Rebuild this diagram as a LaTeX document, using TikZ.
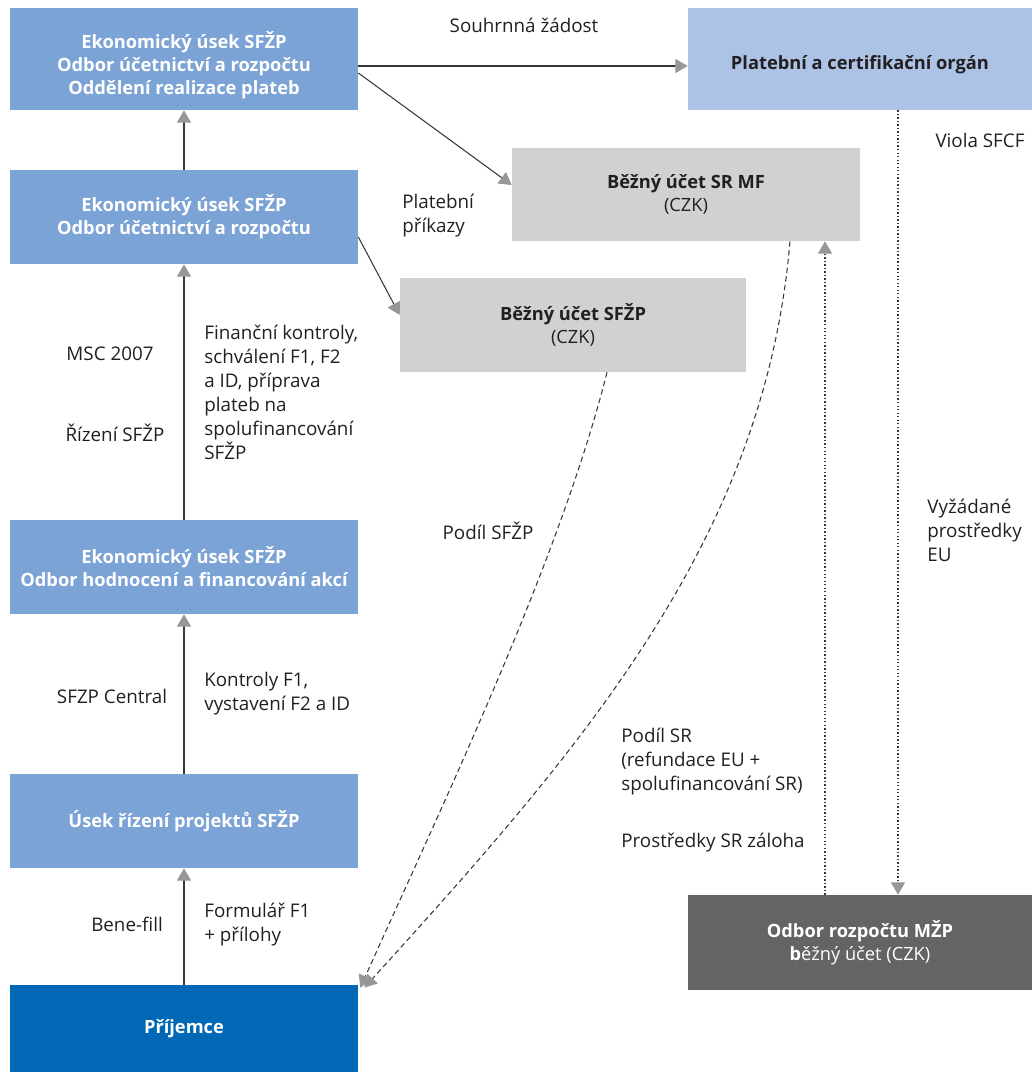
\documentclass[tikz,border=0pt]{standalone}
\usepackage{fontspec}
\setmainfont{Open Sans}
\usepackage{xcolor}
\usetikzlibrary{arrows.meta}
\definecolor{ekoblue}{RGB}{124,163,214}
\definecolor{orgblue}{RGB}{172,195,230}
\definecolor{uctgray}{RGB}{208,209,211}
\definecolor{mzpgray}{RGB}{99,100,102}
\definecolor{prijblue}{RGB}{0,104,180}
\definecolor{tipgray}{RGB}{150,151,153}
\definecolor{linegray}{RGB}{55,55,57}
\definecolor{txtdark}{RGB}{35,31,32}
\tikzset{
	box/.style={
			minimum width=6.96cm, minimum height=1.88cm, inner sep=0pt,
			align=center, font=\fontsize{10.4}{13.4}\selectfont
		},
	eko/.style={box, fill=ekoblue, text=white, font=\bfseries\fontsize{10.4}{13.1}\selectfont},
	ucet/.style={box, fill=uctgray, text=txtdark},
	boxtext/.style={align=center, inner sep=0pt, font=\bfseries\fontsize{10.4}{13.1}\selectfont},
	label/.style={text=txtdark, align=left, inner sep=0pt, font=\fontsize{10.7}{13.66}\selectfont},
	flow/.style={draw=linegray, line width=0.6pt, -{Triangle[length=7pt, width=8pt, fill=tipgray, color=tipgray]}},
	flowdash/.style={flow, dash pattern=on 3pt off 2pt},
	flowdot/.style={flow, dash pattern=on 0.8pt off 1.2pt}
}

\begin{document}
\begin{tikzpicture}[x=0.02cm, y=-0.02cm]
	\useasboundingbox (0,0) rectangle (1032,1073);

	% Draw the left column of boxes
	\node[eko, minimum height=2.04cm] (ekuc) at (184,59) {};
	\node[boxtext, text=white] (ekuctext) at ([yshift=-0.12cm]ekuc.center) {Ekonomický úsek SFŽP\\Odbor účetnictví a rozpočtu\\Oddělení realizace plateb};
	\node[eko] (ekodb) at (184,217) {Ekonomický úsek SFŽP\\Odbor účetnictví a rozpočtu};
	\node[eko] (ekhod) at (184,567) {Ekonomický úsek SFŽP\\Odbor hodnocení a financování akcí};
	\node[eko] (usek) at (184,821) {Úsek řízení projektů SFŽP};
	\node[eko, fill=prijblue, minimum height=1.74cm] (prij) at (184,1028.5) {Příjemce};

	% Draw the accounts and the paying authority
	\node[box, fill=orgblue, minimum width=6.88cm, minimum height=2.04cm] (platorg) at (860,59) {};
	\node[boxtext, text=txtdark] (platorgtext) at ([yshift=-0.11cm]platorg.center) {Platební a certifikační orgán};
	\node[ucet, minimum height=1.86cm] (srmf) at (686,194.5) {\textbf{Běžný účet SR MF}\\(CZK)};
	\node[ucet, minimum width=6.92cm] (sfzp) at (573,325) {\textbf{Běžný účet SFŽP}\\(CZK)};
	\node[box, fill=mzpgray, text=white, minimum width=6.88cm, minimum height=1.9cm] (mzp) at (860,942.5) {\textbf{Odbor rozpočtu MŽP}\\\textbf{b}ěžný účet (CZK)};

	% Draw the vertical flow up the left column
	\draw[flow] (prij.north) -- (usek.south);
	\draw[flow] (usek.north) -- (ekhod.south);
	\draw[flow] (ekhod.north) -- (ekodb.south);
	\draw[flow] (ekodb.north) -- (ekuc.south);

	% Draw the payment requests and orders
	\draw[flow] ([yshift=-0.14cm]ekuc.east) -- ([yshift=-0.14cm]platorg.west);
	\draw[flow] ([yshift=-0.28cm]ekuc.east) -- ([yshift=0.19cm]srmf.west);
	\draw[flow] ([yshift=-0.4cm]ekodb.east) -- ([yshift=0.2cm]sfzp.west);

	% Draw the shares paid to the beneficiary
	\draw[flowdash] ([xshift=0.68cm]sfzp.south) .. controls (560,560) and (440,810) .. ([xshift=0.04cm,yshift=-0.06cm]prij.north east);
	\draw[flowdash] ([xshift=2.08cm]srmf.south) .. controls (765,540) and (580,750) .. ([xshift=0.12cm,yshift=-0.06cm]prij.north east);

	% Draw the EU funds
	\draw[flowdot] ([xshift=0.76cm]platorg.south) -- ([xshift=0.76cm]mzp.north);
	\draw[flowdot] ([xshift=-0.7cm]mzp.north) -- ([xshift=-0.7cm]mzp.north |- srmf.south);

	% Labels
	\node[label] (souhrn) at (524,25) {Souhrnná žádost};
	\node[label, anchor=west] (prikazy) at (402,216) {Platební\\příkazy};
	\node[label] (viola) at (980,140) {Viola SFCF};
	\node[label] (msc) at (110,354) {MSC 2007};
	\node[label] (rizeni) at (115,433) {Řízení SFŽP};
	\node[label, anchor=west] (kontroly) at (204,392.5) {Finanční kontroly,\\schválení F1, F2\\a ID, příprava\\plateb na\\spolufinancování\\SFŽP};
	\node[label] (podilsfzp) at (488,531) {Podíl SFŽP};
	\node[label, anchor=west] (vyzadane) at (927,530) {Vyžádané\\prostředky\\EU};
	\node[label] (central) at (112,696) {SFZP Central};
	\node[label, anchor=west] (kontrolyf) at (204,694) {Kontroly F1,\\vystavení F2 a ID};
	\node[label, anchor=west] (podilsr) at (621,762) {Podíl SR\\(refundace EU +\\spolufinancování SR)};
	\node[label, anchor=west] (zaloha) at (621,843) {Prostředky SR záloha};
	\node[label] (bene) at (127,924) {Bene-fill};
	\node[label, anchor=west] (formular) at (204,925) {Formulář F1\\+ přílohy};
\end{tikzpicture}
\end{document}
